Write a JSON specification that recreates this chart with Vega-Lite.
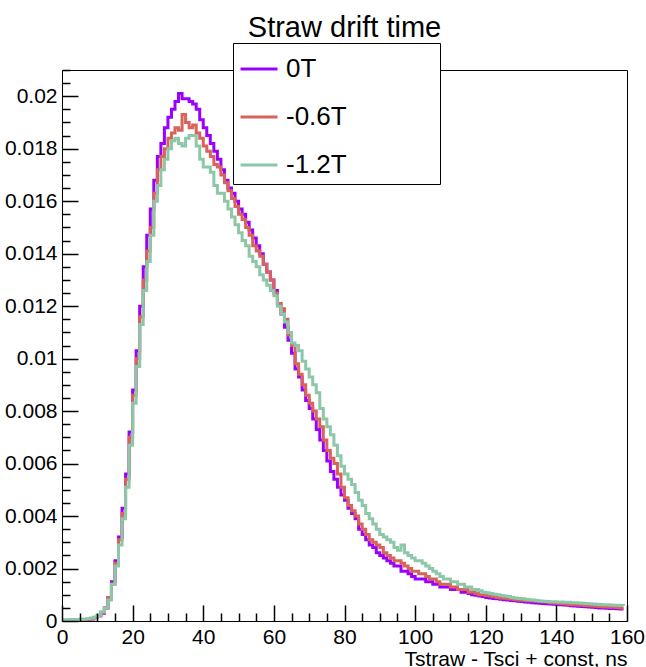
{
"$schema": "https://vega.github.io/schema/vega-lite/v6.json",
"width": 565, "height": 551,
"autosize": {"type": "none"},
"padding": {"left": 62, "top": 70, "right": 19, "bottom": 46},
"background": "white",
"config": {"view": {"stroke": "black", "strokeWidth": 1}, "font": "Liberation Sans"},
"title": {"text": "Straw drift time", "fontSize": 29, "font": "Liberation Sans", "fontWeight": "normal", "anchor": "middle", "frame": "group", "offset": -23, "baseline": "alphabetic", "color": "black"},
"datasets": {"h": [
{"t":0,"s":"0T","v":0.00002},{"t":1,"s":"0T","v":0.00002},{"t":2,"s":"0T","v":0.00003},{"t":3,"s":"0T","v":0.00003},{"t":4,"s":"0T","v":0.00004},{"t":5,"s":"0T","v":0.00004},{"t":6,"s":"0T","v":0.00005},{"t":7,"s":"0T","v":0.00006},{"t":8,"s":"0T","v":0.00008},{"t":9,"s":"0T","v":0.00012},
{"t":10,"s":"0T","v":0.0002},{"t":11,"s":"0T","v":0.0003},{"t":12,"s":"0T","v":0.0005},{"t":13,"s":"0T","v":0.0009},{"t":14,"s":"0T","v":0.0015},{"t":15,"s":"0T","v":0.0023},{"t":16,"s":"0T","v":0.0032},{"t":17,"s":"0T","v":0.0043},{"t":18,"s":"0T","v":0.0056},{"t":19,"s":"0T","v":0.0072},
{"t":20,"s":"0T","v":0.0088},{"t":21,"s":"0T","v":0.0103},{"t":22,"s":"0T","v":0.012},{"t":23,"s":"0T","v":0.0135},{"t":24,"s":"0T","v":0.0147},{"t":25,"s":"0T","v":0.0157},{"t":26,"s":"0T","v":0.0168},{"t":27,"s":"0T","v":0.0177},{"t":28,"s":"0T","v":0.0182},{"t":29,"s":"0T","v":0.0188},
{"t":30,"s":"0T","v":0.0192},{"t":31,"s":"0T","v":0.0195},{"t":32,"s":"0T","v":0.0198},{"t":33,"s":"0T","v":0.0201},{"t":34,"s":"0T","v":0.0199},{"t":35,"s":"0T","v":0.0199},{"t":36,"s":"0T","v":0.0198},{"t":37,"s":"0T","v":0.0197},{"t":38,"s":"0T","v":0.0195},{"t":39,"s":"0T","v":0.0191},
{"t":40,"s":"0T","v":0.0188},{"t":41,"s":"0T","v":0.0185},{"t":42,"s":"0T","v":0.0182},{"t":43,"s":"0T","v":0.0179},{"t":44,"s":"0T","v":0.0176},{"t":45,"s":"0T","v":0.0172},{"t":46,"s":"0T","v":0.0168},{"t":47,"s":"0T","v":0.0165},{"t":48,"s":"0T","v":0.0163},{"t":49,"s":"0T","v":0.016},
{"t":50,"s":"0T","v":0.0157},{"t":51,"s":"0T","v":0.0155},{"t":52,"s":"0T","v":0.0152},{"t":53,"s":"0T","v":0.0149},{"t":54,"s":"0T","v":0.0146},{"t":55,"s":"0T","v":0.0143},{"t":56,"s":"0T","v":0.014},{"t":57,"s":"0T","v":0.0136},{"t":58,"s":"0T","v":0.0133},{"t":59,"s":"0T","v":0.013},
{"t":60,"s":"0T","v":0.0126},{"t":61,"s":"0T","v":0.0121},{"t":62,"s":"0T","v":0.0117},{"t":63,"s":"0T","v":0.0112},{"t":64,"s":"0T","v":0.0107},{"t":65,"s":"0T","v":0.0102},{"t":66,"s":"0T","v":0.0096},{"t":67,"s":"0T","v":0.0093},{"t":68,"s":"0T","v":0.0088},{"t":69,"s":"0T","v":0.0084},
{"t":70,"s":"0T","v":0.0081},{"t":71,"s":"0T","v":0.0077},{"t":72,"s":"0T","v":0.0073},{"t":73,"s":"0T","v":0.0069},{"t":74,"s":"0T","v":0.0065},{"t":75,"s":"0T","v":0.0061},{"t":76,"s":"0T","v":0.0057},{"t":77,"s":"0T","v":0.0054},{"t":78,"s":"0T","v":0.0051},{"t":79,"s":"0T","v":0.0048},
{"t":80,"s":"0T","v":0.0046},{"t":81,"s":"0T","v":0.0043},{"t":82,"s":"0T","v":0.0041},{"t":83,"s":"0T","v":0.0039},{"t":84,"s":"0T","v":0.0035},{"t":85,"s":"0T","v":0.0033},{"t":86,"s":"0T","v":0.0031},{"t":87,"s":"0T","v":0.0029},{"t":88,"s":"0T","v":0.0028},{"t":89,"s":"0T","v":0.0026},
{"t":90,"s":"0T","v":0.0025},{"t":91,"s":"0T","v":0.0024},{"t":92,"s":"0T","v":0.0023},{"t":93,"s":"0T","v":0.0022},{"t":94,"s":"0T","v":0.0021},{"t":95,"s":"0T","v":0.0021},{"t":96,"s":"0T","v":0.0019},{"t":97,"s":"0T","v":0.0019},{"t":98,"s":"0T","v":0.0018},{"t":99,"s":"0T","v":0.0017},
{"t":100,"s":"0T","v":0.0016},{"t":101,"s":"0T","v":0.0016},{"t":102,"s":"0T","v":0.0016},{"t":103,"s":"0T","v":0.0015},{"t":104,"s":"0T","v":0.0015},{"t":105,"s":"0T","v":0.0014},{"t":106,"s":"0T","v":0.0014},{"t":107,"s":"0T","v":0.0013},{"t":108,"s":"0T","v":0.0013},{"t":109,"s":"0T","v":0.0013},
{"t":110,"s":"0T","v":0.0012},{"t":111,"s":"0T","v":0.0012},{"t":112,"s":"0T","v":0.0012},{"t":113,"s":"0T","v":0.0011},{"t":114,"s":"0T","v":0.0011},{"t":115,"s":"0T","v":0.00105},{"t":116,"s":"0T","v":0.001},{"t":117,"s":"0T","v":0.00098},{"t":118,"s":"0T","v":0.00095},{"t":119,"s":"0T","v":0.00093},
{"t":120,"s":"0T","v":0.0009},{"t":121,"s":"0T","v":0.00088},{"t":122,"s":"0T","v":0.00086},{"t":123,"s":"0T","v":0.00085},{"t":124,"s":"0T","v":0.00083},{"t":125,"s":"0T","v":0.00081},{"t":126,"s":"0T","v":0.0008},{"t":127,"s":"0T","v":0.00078},{"t":128,"s":"0T","v":0.00077},{"t":129,"s":"0T","v":0.00075},
{"t":130,"s":"0T","v":0.00074},{"t":131,"s":"0T","v":0.00072},{"t":132,"s":"0T","v":0.00071},{"t":133,"s":"0T","v":0.0007},{"t":134,"s":"0T","v":0.00069},{"t":135,"s":"0T","v":0.00068},{"t":136,"s":"0T","v":0.00067},{"t":137,"s":"0T","v":0.00066},{"t":138,"s":"0T","v":0.00065},{"t":139,"s":"0T","v":0.00064},
{"t":140,"s":"0T","v":0.00063},{"t":141,"s":"0T","v":0.00062},{"t":142,"s":"0T","v":0.00061},{"t":143,"s":"0T","v":0.0006},{"t":144,"s":"0T","v":0.00058},{"t":145,"s":"0T","v":0.00057},{"t":146,"s":"0T","v":0.00056},{"t":147,"s":"0T","v":0.00055},{"t":148,"s":"0T","v":0.00054},{"t":149,"s":"0T","v":0.00053},
{"t":150,"s":"0T","v":0.00052},{"t":151,"s":"0T","v":0.00051},{"t":152,"s":"0T","v":0.0005},{"t":153,"s":"0T","v":0.0005},{"t":154,"s":"0T","v":0.00049},{"t":155,"s":"0T","v":0.00048},{"t":156,"s":"0T","v":0.00048},{"t":157,"s":"0T","v":0.00047},{"t":158,"s":"0T","v":0.00046},{"t":159,"s":"0T","v":0.00046},
{"t":0,"s":"-0.6T","v":0.00003},{"t":1,"s":"-0.6T","v":0.00003},{"t":2,"s":"-0.6T","v":0.00004},{"t":3,"s":"-0.6T","v":0.00004},{"t":4,"s":"-0.6T","v":0.00005},{"t":5,"s":"-0.6T","v":0.00005},{"t":6,"s":"-0.6T","v":0.00006},{"t":7,"s":"-0.6T","v":0.00007},{"t":8,"s":"-0.6T","v":0.00009},{"t":9,"s":"-0.6T","v":0.00013},
{"t":10,"s":"-0.6T","v":0.0002},{"t":11,"s":"-0.6T","v":0.00032},{"t":12,"s":"-0.6T","v":0.0005},{"t":13,"s":"-0.6T","v":0.0009},{"t":14,"s":"-0.6T","v":0.0014},{"t":15,"s":"-0.6T","v":0.0022},{"t":16,"s":"-0.6T","v":0.0031},{"t":17,"s":"-0.6T","v":0.0041},{"t":18,"s":"-0.6T","v":0.0054},{"t":19,"s":"-0.6T","v":0.007},
{"t":20,"s":"-0.6T","v":0.0086},{"t":21,"s":"-0.6T","v":0.01},{"t":22,"s":"-0.6T","v":0.0116},{"t":23,"s":"-0.6T","v":0.013},{"t":24,"s":"-0.6T","v":0.0141},{"t":25,"s":"-0.6T","v":0.015},{"t":26,"s":"-0.6T","v":0.0163},{"t":27,"s":"-0.6T","v":0.0172},{"t":28,"s":"-0.6T","v":0.0177},{"t":29,"s":"-0.6T","v":0.018},
{"t":30,"s":"-0.6T","v":0.0184},{"t":31,"s":"-0.6T","v":0.0186},{"t":32,"s":"-0.6T","v":0.0188},{"t":33,"s":"-0.6T","v":0.0187},{"t":34,"s":"-0.6T","v":0.0193},{"t":35,"s":"-0.6T","v":0.019},{"t":36,"s":"-0.6T","v":0.0188},{"t":37,"s":"-0.6T","v":0.0189},{"t":38,"s":"-0.6T","v":0.0186},{"t":39,"s":"-0.6T","v":0.0184},
{"t":40,"s":"-0.6T","v":0.0181},{"t":41,"s":"-0.6T","v":0.0179},{"t":42,"s":"-0.6T","v":0.0177},{"t":43,"s":"-0.6T","v":0.0174},{"t":44,"s":"-0.6T","v":0.0173},{"t":45,"s":"-0.6T","v":0.017},{"t":46,"s":"-0.6T","v":0.0167},{"t":47,"s":"-0.6T","v":0.0164},{"t":48,"s":"-0.6T","v":0.0161},{"t":49,"s":"-0.6T","v":0.0158},
{"t":50,"s":"-0.6T","v":0.0155},{"t":51,"s":"-0.6T","v":0.0153},{"t":52,"s":"-0.6T","v":0.015},{"t":53,"s":"-0.6T","v":0.0147},{"t":54,"s":"-0.6T","v":0.0143},{"t":55,"s":"-0.6T","v":0.0141},{"t":56,"s":"-0.6T","v":0.0139},{"t":57,"s":"-0.6T","v":0.0136},{"t":58,"s":"-0.6T","v":0.0133},{"t":59,"s":"-0.6T","v":0.013},
{"t":60,"s":"-0.6T","v":0.0125},{"t":61,"s":"-0.6T","v":0.0121},{"t":62,"s":"-0.6T","v":0.0119},{"t":63,"s":"-0.6T","v":0.0115},{"t":64,"s":"-0.6T","v":0.0109},{"t":65,"s":"-0.6T","v":0.0105},{"t":66,"s":"-0.6T","v":0.0098},{"t":67,"s":"-0.6T","v":0.0094},{"t":68,"s":"-0.6T","v":0.009},{"t":69,"s":"-0.6T","v":0.0086},
{"t":70,"s":"-0.6T","v":0.0083},{"t":71,"s":"-0.6T","v":0.008},{"t":72,"s":"-0.6T","v":0.0077},{"t":73,"s":"-0.6T","v":0.0074},{"t":74,"s":"-0.6T","v":0.0069},{"t":75,"s":"-0.6T","v":0.0065},{"t":76,"s":"-0.6T","v":0.0062},{"t":77,"s":"-0.6T","v":0.006},{"t":78,"s":"-0.6T","v":0.0056},{"t":79,"s":"-0.6T","v":0.0051},
{"t":80,"s":"-0.6T","v":0.0047},{"t":81,"s":"-0.6T","v":0.0044},{"t":82,"s":"-0.6T","v":0.0042},{"t":83,"s":"-0.6T","v":0.004},{"t":84,"s":"-0.6T","v":0.0037},{"t":85,"s":"-0.6T","v":0.0035},{"t":86,"s":"-0.6T","v":0.0033},{"t":87,"s":"-0.6T","v":0.0031},{"t":88,"s":"-0.6T","v":0.003},{"t":89,"s":"-0.6T","v":0.0029},
{"t":90,"s":"-0.6T","v":0.0028},{"t":91,"s":"-0.6T","v":0.0026},{"t":92,"s":"-0.6T","v":0.0025},{"t":93,"s":"-0.6T","v":0.0024},{"t":94,"s":"-0.6T","v":0.0023},{"t":95,"s":"-0.6T","v":0.0023},{"t":96,"s":"-0.6T","v":0.0022},{"t":97,"s":"-0.6T","v":0.0021},{"t":98,"s":"-0.6T","v":0.002},{"t":99,"s":"-0.6T","v":0.0019},
{"t":100,"s":"-0.6T","v":0.0019},{"t":101,"s":"-0.6T","v":0.0018},{"t":102,"s":"-0.6T","v":0.0018},{"t":103,"s":"-0.6T","v":0.0017},{"t":104,"s":"-0.6T","v":0.0016},{"t":105,"s":"-0.6T","v":0.0016},{"t":106,"s":"-0.6T","v":0.0015},{"t":107,"s":"-0.6T","v":0.0014},{"t":108,"s":"-0.6T","v":0.0014},{"t":109,"s":"-0.6T","v":0.0014},
{"t":110,"s":"-0.6T","v":0.0013},{"t":111,"s":"-0.6T","v":0.0013},{"t":112,"s":"-0.6T","v":0.0012},{"t":113,"s":"-0.6T","v":0.0012},{"t":114,"s":"-0.6T","v":0.0012},{"t":115,"s":"-0.6T","v":0.0011},{"t":116,"s":"-0.6T","v":0.0011},{"t":117,"s":"-0.6T","v":0.00105},{"t":118,"s":"-0.6T","v":0.001},{"t":119,"s":"-0.6T","v":0.001},
{"t":120,"s":"-0.6T","v":0.00097},{"t":121,"s":"-0.6T","v":0.00095},{"t":122,"s":"-0.6T","v":0.00092},{"t":123,"s":"-0.6T","v":0.0009},{"t":124,"s":"-0.6T","v":0.00088},{"t":125,"s":"-0.6T","v":0.00087},{"t":126,"s":"-0.6T","v":0.00085},{"t":127,"s":"-0.6T","v":0.00084},{"t":128,"s":"-0.6T","v":0.00082},{"t":129,"s":"-0.6T","v":0.0008},
{"t":130,"s":"-0.6T","v":0.00079},{"t":131,"s":"-0.6T","v":0.00078},{"t":132,"s":"-0.6T","v":0.00077},{"t":133,"s":"-0.6T","v":0.00076},{"t":134,"s":"-0.6T","v":0.00075},{"t":135,"s":"-0.6T","v":0.00074},{"t":136,"s":"-0.6T","v":0.00073},{"t":137,"s":"-0.6T","v":0.00072},{"t":138,"s":"-0.6T","v":0.0007},{"t":139,"s":"-0.6T","v":0.00069},
{"t":140,"s":"-0.6T","v":0.00068},{"t":141,"s":"-0.6T","v":0.00067},{"t":142,"s":"-0.6T","v":0.00066},{"t":143,"s":"-0.6T","v":0.00064},{"t":144,"s":"-0.6T","v":0.00063},{"t":145,"s":"-0.6T","v":0.00062},{"t":146,"s":"-0.6T","v":0.00061},{"t":147,"s":"-0.6T","v":0.0006},{"t":148,"s":"-0.6T","v":0.00059},{"t":149,"s":"-0.6T","v":0.00058},
{"t":150,"s":"-0.6T","v":0.00057},{"t":151,"s":"-0.6T","v":0.00056},{"t":152,"s":"-0.6T","v":0.00055},{"t":153,"s":"-0.6T","v":0.00054},{"t":154,"s":"-0.6T","v":0.00053},{"t":155,"s":"-0.6T","v":0.00052},{"t":156,"s":"-0.6T","v":0.00052},{"t":157,"s":"-0.6T","v":0.00051},{"t":158,"s":"-0.6T","v":0.0005},{"t":159,"s":"-0.6T","v":0.0005},
{"t":0,"s":"-1.2T","v":0.00005},{"t":1,"s":"-1.2T","v":0.00005},{"t":2,"s":"-1.2T","v":0.00005},{"t":3,"s":"-1.2T","v":0.00006},{"t":4,"s":"-1.2T","v":0.00006},{"t":5,"s":"-1.2T","v":0.00007},{"t":6,"s":"-1.2T","v":0.00008},{"t":7,"s":"-1.2T","v":0.00009},{"t":8,"s":"-1.2T","v":0.00011},{"t":9,"s":"-1.2T","v":0.00015},
{"t":10,"s":"-1.2T","v":0.00022},{"t":11,"s":"-1.2T","v":0.00035},{"t":12,"s":"-1.2T","v":0.0005},{"t":13,"s":"-1.2T","v":0.0008},{"t":14,"s":"-1.2T","v":0.0014},{"t":15,"s":"-1.2T","v":0.0021},{"t":16,"s":"-1.2T","v":0.0029},{"t":17,"s":"-1.2T","v":0.0039},{"t":18,"s":"-1.2T","v":0.0051},{"t":19,"s":"-1.2T","v":0.0067},
{"t":20,"s":"-1.2T","v":0.0083},{"t":21,"s":"-1.2T","v":0.0097},{"t":22,"s":"-1.2T","v":0.0113},{"t":23,"s":"-1.2T","v":0.0126},{"t":24,"s":"-1.2T","v":0.0137},{"t":25,"s":"-1.2T","v":0.0147},{"t":26,"s":"-1.2T","v":0.016},{"t":27,"s":"-1.2T","v":0.0166},{"t":28,"s":"-1.2T","v":0.0172},{"t":29,"s":"-1.2T","v":0.0176},
{"t":30,"s":"-1.2T","v":0.018},{"t":31,"s":"-1.2T","v":0.0183},{"t":32,"s":"-1.2T","v":0.0184},{"t":33,"s":"-1.2T","v":0.0182},{"t":34,"s":"-1.2T","v":0.0181},{"t":35,"s":"-1.2T","v":0.0184},{"t":36,"s":"-1.2T","v":0.0185},{"t":37,"s":"-1.2T","v":0.0185},{"t":38,"s":"-1.2T","v":0.0181},{"t":39,"s":"-1.2T","v":0.0176},
{"t":40,"s":"-1.2T","v":0.0173},{"t":41,"s":"-1.2T","v":0.0173},{"t":42,"s":"-1.2T","v":0.0171},{"t":43,"s":"-1.2T","v":0.0166},{"t":44,"s":"-1.2T","v":0.0163},{"t":45,"s":"-1.2T","v":0.0163},{"t":46,"s":"-1.2T","v":0.016},{"t":47,"s":"-1.2T","v":0.0157},{"t":48,"s":"-1.2T","v":0.0154},{"t":49,"s":"-1.2T","v":0.0151},
{"t":50,"s":"-1.2T","v":0.0148},{"t":51,"s":"-1.2T","v":0.0145},{"t":52,"s":"-1.2T","v":0.0143},{"t":53,"s":"-1.2T","v":0.0139},{"t":54,"s":"-1.2T","v":0.0137},{"t":55,"s":"-1.2T","v":0.0135},{"t":56,"s":"-1.2T","v":0.0132},{"t":57,"s":"-1.2T","v":0.013},{"t":58,"s":"-1.2T","v":0.0128},{"t":59,"s":"-1.2T","v":0.0126},
{"t":60,"s":"-1.2T","v":0.0124},{"t":61,"s":"-1.2T","v":0.012},{"t":62,"s":"-1.2T","v":0.0117},{"t":63,"s":"-1.2T","v":0.0114},{"t":64,"s":"-1.2T","v":0.011},{"t":65,"s":"-1.2T","v":0.0106},{"t":66,"s":"-1.2T","v":0.0105},{"t":67,"s":"-1.2T","v":0.0103},{"t":68,"s":"-1.2T","v":0.0099},{"t":69,"s":"-1.2T","v":0.0096},
{"t":70,"s":"-1.2T","v":0.0093},{"t":71,"s":"-1.2T","v":0.009},{"t":72,"s":"-1.2T","v":0.0087},{"t":73,"s":"-1.2T","v":0.0081},{"t":74,"s":"-1.2T","v":0.0077},{"t":75,"s":"-1.2T","v":0.0074},{"t":76,"s":"-1.2T","v":0.0071},{"t":77,"s":"-1.2T","v":0.0067},{"t":78,"s":"-1.2T","v":0.0063},{"t":79,"s":"-1.2T","v":0.0059},
{"t":80,"s":"-1.2T","v":0.0056},{"t":81,"s":"-1.2T","v":0.0054},{"t":82,"s":"-1.2T","v":0.0052},{"t":83,"s":"-1.2T","v":0.0049},{"t":84,"s":"-1.2T","v":0.0046},{"t":85,"s":"-1.2T","v":0.0044},{"t":86,"s":"-1.2T","v":0.0041},{"t":87,"s":"-1.2T","v":0.0039},{"t":88,"s":"-1.2T","v":0.0037},{"t":89,"s":"-1.2T","v":0.0035},
{"t":90,"s":"-1.2T","v":0.0033},{"t":91,"s":"-1.2T","v":0.0032},{"t":92,"s":"-1.2T","v":0.0031},{"t":93,"s":"-1.2T","v":0.003},{"t":94,"s":"-1.2T","v":0.0028},{"t":95,"s":"-1.2T","v":0.0027},{"t":96,"s":"-1.2T","v":0.0029},{"t":97,"s":"-1.2T","v":0.0026},{"t":98,"s":"-1.2T","v":0.0025},{"t":99,"s":"-1.2T","v":0.0024},
{"t":100,"s":"-1.2T","v":0.0023},{"t":101,"s":"-1.2T","v":0.0023},{"t":102,"s":"-1.2T","v":0.0022},{"t":103,"s":"-1.2T","v":0.0021},{"t":104,"s":"-1.2T","v":0.002},{"t":105,"s":"-1.2T","v":0.0019},{"t":106,"s":"-1.2T","v":0.0018},{"t":107,"s":"-1.2T","v":0.0017},{"t":108,"s":"-1.2T","v":0.0016},{"t":109,"s":"-1.2T","v":0.0016},
{"t":110,"s":"-1.2T","v":0.0015},{"t":111,"s":"-1.2T","v":0.0015},{"t":112,"s":"-1.2T","v":0.0014},{"t":113,"s":"-1.2T","v":0.0014},{"t":114,"s":"-1.2T","v":0.0013},{"t":115,"s":"-1.2T","v":0.0013},{"t":116,"s":"-1.2T","v":0.0012},{"t":117,"s":"-1.2T","v":0.0012},{"t":118,"s":"-1.2T","v":0.00115},{"t":119,"s":"-1.2T","v":0.0011},
{"t":120,"s":"-1.2T","v":0.00108},{"t":121,"s":"-1.2T","v":0.00105},{"t":122,"s":"-1.2T","v":0.00102},{"t":123,"s":"-1.2T","v":0.001},{"t":124,"s":"-1.2T","v":0.00097},{"t":125,"s":"-1.2T","v":0.00095},{"t":126,"s":"-1.2T","v":0.00093},{"t":127,"s":"-1.2T","v":0.0009},{"t":128,"s":"-1.2T","v":0.00088},{"t":129,"s":"-1.2T","v":0.00086},
{"t":130,"s":"-1.2T","v":0.00085},{"t":131,"s":"-1.2T","v":0.00083},{"t":132,"s":"-1.2T","v":0.00081},{"t":133,"s":"-1.2T","v":0.0008},{"t":134,"s":"-1.2T","v":0.00078},{"t":135,"s":"-1.2T","v":0.00076},{"t":136,"s":"-1.2T","v":0.00075},{"t":137,"s":"-1.2T","v":0.00074},{"t":138,"s":"-1.2T","v":0.00073},{"t":139,"s":"-1.2T","v":0.00073},
{"t":140,"s":"-1.2T","v":0.00072},{"t":141,"s":"-1.2T","v":0.00072},{"t":142,"s":"-1.2T","v":0.00071},{"t":143,"s":"-1.2T","v":0.00071},{"t":144,"s":"-1.2T","v":0.0007},{"t":145,"s":"-1.2T","v":0.0007},{"t":146,"s":"-1.2T","v":0.00069},{"t":147,"s":"-1.2T","v":0.00068},{"t":148,"s":"-1.2T","v":0.00067},{"t":149,"s":"-1.2T","v":0.00066},
{"t":150,"s":"-1.2T","v":0.00065},{"t":151,"s":"-1.2T","v":0.00064},{"t":152,"s":"-1.2T","v":0.00063},{"t":153,"s":"-1.2T","v":0.00062},{"t":154,"s":"-1.2T","v":0.00062},{"t":155,"s":"-1.2T","v":0.00061},{"t":156,"s":"-1.2T","v":0.0006},{"t":157,"s":"-1.2T","v":0.0006},{"t":158,"s":"-1.2T","v":0.00059},{"t":159,"s":"-1.2T","v":0.00058}
]},
"data": {"name": "h"},
"mark": {"type": "line", "interpolate": "step-after", "strokeWidth": 3, "clip": true},
"encoding": {
  "x": {"field": "t", "type": "quantitative",
    "scale": {"domain": [0, 160], "nice": false, "zero": false},
    "axis": {"orient": "bottom", "zindex": 2,
      "values": [0,5,10,15,20,25,30,35,40,45,50,55,60,65,70,75,80,85,90,95,100,105,110,115,120,125,130,135,140,145,150,155,160],
      "labelExpr": "datum.value % 20 === 0 ? datum.label : ''",
      "tickSize": {"condition": {"test": "datum.value % 20 === 0", "value": -16}, "value": -8},
      "tickColor": "black", "tickWidth": 1.5,
      "labelPadding": 21, "labelFontSize": 21, "labelFont": "Liberation Sans", "labelColor": "black",
      "labelOverlap": false, "labelFlush": false, "labelBound": false,
      "domain": true, "domainOpacity": 0, "grid": false,
      "title": "Tstraw - Tsci + const, ns", "titleAnchor": "end", "titleAlign": "right",
      "titleFontSize": 21, "titleFont": "Liberation Sans", "titleFontWeight": "normal", "titleColor": "black", "titlePadding": -7
    }},
  "y": {"field": "v", "type": "quantitative",
    "scale": {"domain": [0, 0.021], "nice": false},
    "axis": {"orient": "left", "zindex": 2,
      "values": [0,0.0005,0.001,0.0015,0.002,0.0025,0.003,0.0035,0.004,0.0045,0.005,0.0055,0.006,0.0065,0.007,0.0075,0.008,0.0085,0.009,0.0095,0.01,0.0105,0.011,0.0115,0.012,0.0125,0.013,0.0135,0.014,0.0145,0.015,0.0155,0.016,0.0165,0.017,0.0175,0.018,0.0185,0.019,0.0195,0.02,0.0205,0.021],
      "format": "~g",
      "labelExpr": "abs(datum.value*500 - round(datum.value*500)) < 0.001 ? datum.label : ''",
      "tickSize": {"condition": {"test": "abs(datum.value*500 - round(datum.value*500)) < 0.001", "value": -16}, "value": -8},
      "tickColor": "black", "tickWidth": 1.5,
      "labelPadding": 21, "labelFontSize": 21, "labelFont": "Liberation Sans", "labelColor": "black",
      "labelOverlap": false, "labelFlush": false, "labelBound": false,
      "domain": true, "domainOpacity": 0, "grid": false, "title": null
    }},
  "color": {"field": "s", "type": "nominal",
    "scale": {"domain": ["0T", "-0.6T", "-1.2T"], "range": ["#9b00ff", "#d9625a", "#8cc8a8"]},
    "legend": {"orient": "none", "legendX": 171, "legendY": -27, "title": null, "zindex": 3,
      "symbolType": "stroke", "symbolSize": 1369, "symbolStrokeWidth": 3,
      "labelFontSize": 26, "labelFont": "Liberation Sans", "labelColor": "black", "labelOffset": 7,
      "rowPadding": 15, "padding": 6, "strokeColor": "black", "fillColor": "white", "labelLimit": 400,
      "labelExpr": "datum.label + '\u00a0\u00a0\u00a0\u00a0\u00a0\u00a0\u00a0\u00a0\u00a0\u00a0\u00a0\u00a0\u200b'"}}
}
}
